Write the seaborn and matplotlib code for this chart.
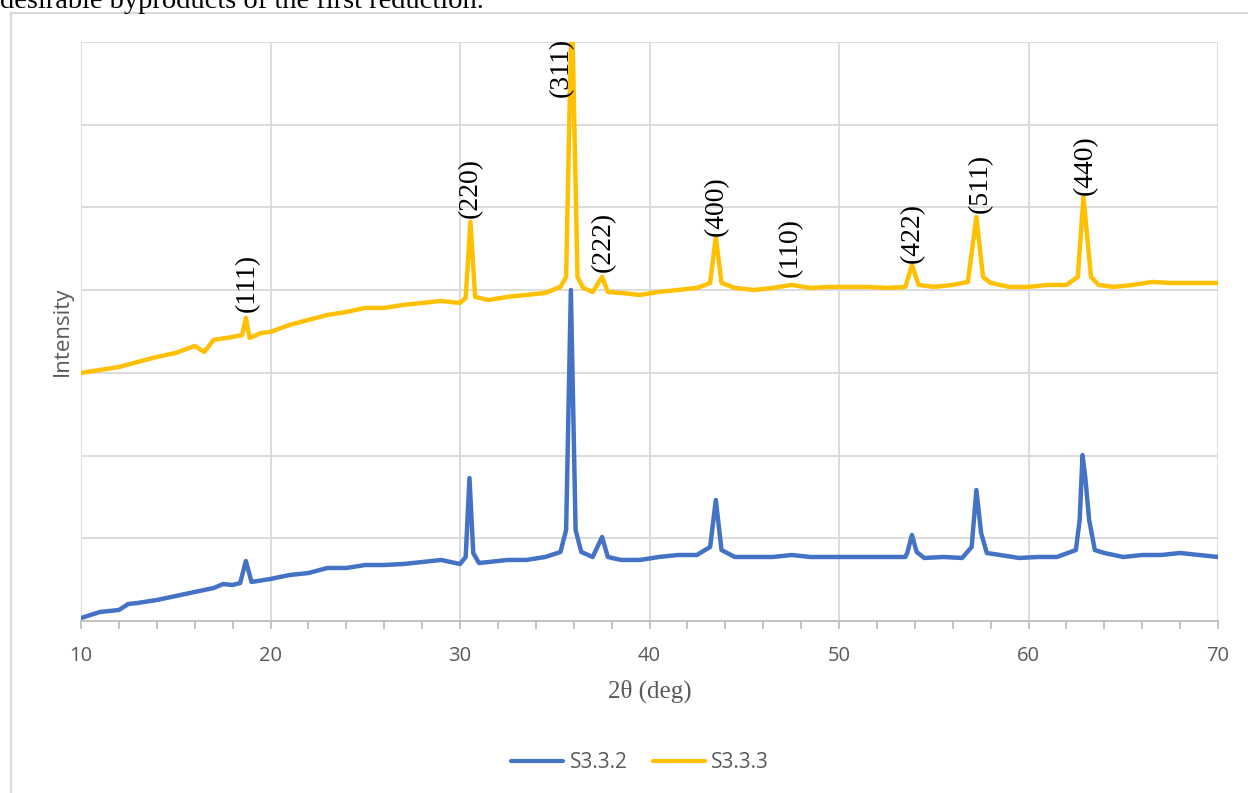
import numpy as np
import pandas as pd
import matplotlib
matplotlib.use("Agg")
import matplotlib.pyplot as plt
from matplotlib.lines import Line2D
import seaborn as sns

# --- data (2theta in deg, intensity in a.u.) ---
two_theta_a = [10, 11, 12, 12.5, 13, 14, 15, 16, 17, 17.5, 18, 18.4, 18.7, 19.0,
               20, 21, 22, 23, 24, 25, 26, 27, 28, 29, 30, 30.3, 30.5, 30.7, 31,
               31.5, 32.5, 33.5, 34.5, 35.3, 35.6, 35.85, 36.1, 36.4, 37.0, 37.5, 37.8,
               38.5, 39.5, 40.5, 41.5, 42.5, 43.2, 43.5, 43.8, 44.5, 45.5, 46.5, 47.5,
               48.5, 49.5, 50.5, 51.5, 52.5, 53.5, 53.6, 53.85, 54.1, 54.5, 55.5, 56.5,
               57.0, 57.25, 57.5, 57.8, 58.5, 59.5, 60.5, 61.5, 62.5, 62.7, 62.85, 63.0,
               63.2, 63.5, 64, 65, 66, 67, 68, 69, 70]
s332 = [36, 109, 133, 206, 218, 254, 302, 351, 399, 447, 435, 459, 725, 472,
        508, 556, 580, 641, 641, 677, 677, 689, 713, 738, 689, 774, 1729, 822, 701,
        713, 738, 738, 774, 834, 1100, 4002, 1100, 834, 774, 1016, 774,
        738, 738, 774, 798, 798, 895, 1463, 858, 774, 774, 774, 798,
        774, 774, 774, 774, 774, 774, 822, 1040, 834, 762, 774, 762,
        895, 1584, 1064, 822, 798, 762, 774, 774, 858, 1221, 2007, 1729,
        1221, 858, 822, 774, 798, 798, 822, 798, 774]

two_theta_b = [10, 11, 12, 13, 14, 15, 16, 16.5, 17, 18, 18.5, 18.7, 18.9, 19.5,
               20, 21, 22, 23, 24, 25, 26, 27, 28, 29, 30, 30.3, 30.55, 30.8,
               31.5, 32.5, 33.5, 34.5, 35.3, 35.6, 35.9, 36.2, 36.5, 37.0, 37.5, 37.8,
               38.5, 39.5, 40.5, 41.5, 42.5, 43.2, 43.5, 43.8, 44.5, 45.5, 46.5, 47.5,
               48.5, 49.5, 50.5, 51.5, 52.5, 53.5, 53.85, 54.2, 55, 56, 56.8, 57.25,
               57.6, 58, 59, 60, 61, 62, 62.6, 62.9, 63.3, 63.7, 64.5, 65.5, 66.5,
               67.5, 68.5, 69.5, 70]
s333 = [2999, 3035, 3071, 3132, 3192, 3241, 3325, 3253, 3398, 3434, 3458, 3664, 3422, 3482,
        3495, 3579, 3640, 3700, 3736, 3785, 3785, 3821, 3845, 3869, 3845, 3906, 4825, 3918,
        3881, 3918, 3942, 3966, 4039, 4160, 7500, 4160, 4027, 3978, 4160, 3978,
        3966, 3942, 3978, 4002, 4027, 4087, 4643, 4087, 4027, 4002, 4027, 4063,
        4027, 4039, 4039, 4039, 4027, 4039, 4305, 4063, 4039, 4063, 4099, 4885,
        4160, 4087, 4039, 4039, 4063, 4063, 4160, 5127, 4160, 4063, 4039, 4063, 4099,
        4087, 4087, 4087, 4087]

peak_labels = ["(111)", "(220)", "(311)", "(222)", "(400)", "(110)", "(422)", "(511)", "(440)"]
peak_x = [18.76, 30.53, 35.33, 37.55, 43.51, 47.41, 53.85, 57.44, 62.98]
peak_y = [3740, 4870, 6340, 4220, 4660, 4160, 4330, 4930, 5150]

series_names = ["S3.3.2", "S3.3.3"]
colors = ["#4472C4", "#FFC000"]

df = pd.concat([
    pd.DataFrame({"two_theta": two_theta_a, "intensity": s332, "sample": series_names[0]}),
    pd.DataFrame({"two_theta": two_theta_b, "intensity": s333, "sample": series_names[1]}),
])

sns.set_theme(style="white")
plt.rcParams["font.family"] = ["Open Sans", "DejaVu Sans"]

fig = plt.figure(figsize=(12.48, 7.93), dpi=100)
ax = fig.add_axes([81 / 1248, 1 - 621 / 793, (1218 - 81) / 1248, (621 - 42) / 793])

sns.lineplot(data=df, x="two_theta", y="intensity", hue="sample",
             palette=colors, linewidth=3.2, ax=ax, legend=False, sort=True)

ax.set_xlim(10, 70)
ax.set_ylim(0, 7000)
ax.set_xticks(range(10, 71, 10))
ax.set_xticks(range(10, 71, 2), minor=True)
ax.set_yticks(range(0, 7001, 1000))
ax.set_yticklabels([])
ax.grid(True, which="major", color="#D9D9D9", linewidth=1.3)
ax.set_axisbelow(True)
for side in ["left", "right", "top"]:
    ax.spines[side].set_visible(False)
ax.spines["bottom"].set_color("#BFBFBF")
ax.spines["bottom"].set_linewidth(1.3)
ax.tick_params(axis="x", which="both", direction="out", length=6, width=1.3,
               color="#BFBFBF", labelsize=14.5, labelcolor="#595959", pad=12, bottom=True)
ax.tick_params(axis="y", length=0)

for lab, px, py in zip(peak_labels, peak_x, peak_y):
    ax.text(px, py, lab, rotation=90, ha="center", va="bottom",
            fontsize=20, family="Liberation Serif", color="black")

ax.set_xlabel("2θ (deg)", family="Liberation Serif", fontsize=18, color="#595959", labelpad=10)
ax.set_ylabel("Intensity", fontsize=16, color="#595959", labelpad=2)

handles = [Line2D([0], [0], color=c, lw=3) for c in colors]
fig.legend(handles, series_names, loc="center", bbox_to_anchor=(640 / 1248, 1 - 763 / 793),
           ncol=2, frameon=False, fontsize=15, labelcolor="#595959",
           handlelength=2.5, handletextpad=0.3, columnspacing=1.2)

# chart border and the cut-off document line above it
fig.add_artist(Line2D([11 / 1248, 11 / 1248], [0, 1 - 13 / 793], color="#D9D9D9", lw=1.5))
fig.add_artist(Line2D([11 / 1248, 1], [1 - 13 / 793, 1 - 13 / 793], color="#D9D9D9", lw=1.5))
fig.text(0, 1 - 8 / 793, "desirable byproducts of the first reduction.",
         family="Liberation Serif", fontsize=20.5, color="black", va="baseline", ha="left")

plt.savefig("out.png", dpi=100)
plt.close()
